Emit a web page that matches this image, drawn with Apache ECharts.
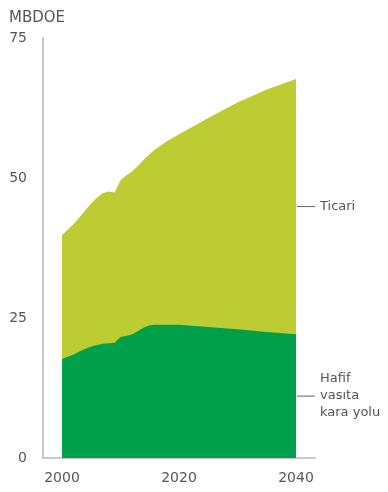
<!DOCTYPE html>
<html>
<head>
<meta charset="utf-8">
<title>MBDOE</title>
<style>
  html, body { margin: 0; padding: 0; background: #fff; }
  #main { width: 388px; height: 492px; }
</style>
</head>
<body>
<div id="main"></div>
<script src="https://cdn.jsdelivr.net/npm/echarts@6/dist/echarts.min.js"></script>
<script>
// yillar ve seriler (MBDOE)
var years = [2000, 2001, 2002, 2003, 2004, 2005, 2006, 2007, 2008, 2009, 2010, 2011, 2012,
             2013, 2014, 2015, 2016, 2018, 2020, 2025, 2030, 2035, 2040];
var hafif = [17.7, 18.1, 18.5, 19.0, 19.5, 19.9, 20.2, 20.4, 20.5, 20.6, 21.6, 21.8, 22.1,
             22.7, 23.3, 23.7, 23.8, 23.8, 23.8, 23.4, 23.0, 22.5, 22.1];
var ticari = [22.1, 22.7, 23.3, 24.0, 24.8, 25.6, 26.3, 26.9, 27.1, 26.8, 28.0, 28.7, 29.1,
              29.5, 30.0, 30.6, 31.4, 32.8, 34.0, 37.3, 40.5, 43.3, 45.6];
var xTicks = [2000, 2020, 2040];
var yTicks = [0, 25, 50, 75];
var seriesNames = ['Hafif\nvasıta\nkara yolu', 'Ticari'];

var font = 'DejaVu Sans';
var textColor = '#555';
var axisGray = '#c9c9c9';

// ust alan = hafif + ticari (elle yigin)
var toplam = hafif.map(function (v, i) { return +(v + ticari[i]).toFixed(2); });

function pairs(vals) {
  return years.map(function (y, i) { return [y, vals[i]]; });
}

var myChart = echarts.init(document.getElementById('main'));

var option = {
  animation: false,
  title: {
    text: 'MBDOE',
    left: 4, top: 6,
    textStyle: { fontFamily: font, fontSize: 15, fontWeight: 'normal', color: textColor }
  },
  grid: { left: 43, right: 73, top: 38, bottom: 34 },
  xAxis: {
    type: 'value',
    min: 1996.75, max: 2043.25,
    splitLine: { show: false },
    axisLine: { lineStyle: { color: axisGray, width: 2 } },
    axisTick: { show: false },
    axisLabel: {
      customValues: xTicks,
      formatter: function (v) { return String(v); },
      margin: 13,
      fontFamily: font, fontSize: 14, color: textColor
    }
  },
  yAxis: {
    type: 'value',
    min: 0, max: 75,
    splitLine: { show: false },
    axisLine: { show: true, lineStyle: { color: axisGray, width: 2 } },
    axisTick: { show: false },
    axisLabel: {
      customValues: yTicks,
      margin: 16,
      fontFamily: font, fontSize: 14, color: textColor
    }
  },
  series: [
    {
      name: seriesNames[1], type: 'line',
      data: pairs(toplam), symbol: 'none',
      lineStyle: { width: 0 },
      areaStyle: { color: '#bdcc32', opacity: 1 },
      z: 2
    },
    {
      name: seriesNames[0], type: 'line',
      data: pairs(hafif), symbol: 'none',
      lineStyle: { width: 0 },
      areaStyle: { color: '#00a04b', opacity: 1 },
      z: 3
    }
  ]
};
myChart.setOption(option);

// etiketler: her alanin 2040'taki ortasina cizgi ve metin
var last = years.length - 1;
var mids = [hafif[last] / 2, hafif[last] + ticari[last] / 2];
var graphics = [];
mids.forEach(function (v, i) {
  var p = myChart.convertToPixel({ gridIndex: 0 }, [years[last], v]);
  graphics.push({
    type: 'line',
    shape: { x1: p[0] + 1, y1: p[1], x2: p[0] + 19, y2: p[1] },
    style: { stroke: '#666', lineWidth: 1 }
  });
  graphics.push({
    type: 'text',
    x: p[0] + 24, y: p[1],
    style: {
      text: seriesNames[i],
      fontFamily: font, fontSize: 13, fill: textColor,
      lineHeight: 17, verticalAlign: 'middle', align: 'left'
    }
  });
});
myChart.setOption({ graphic: graphics });
</script>
</body>
</html>
